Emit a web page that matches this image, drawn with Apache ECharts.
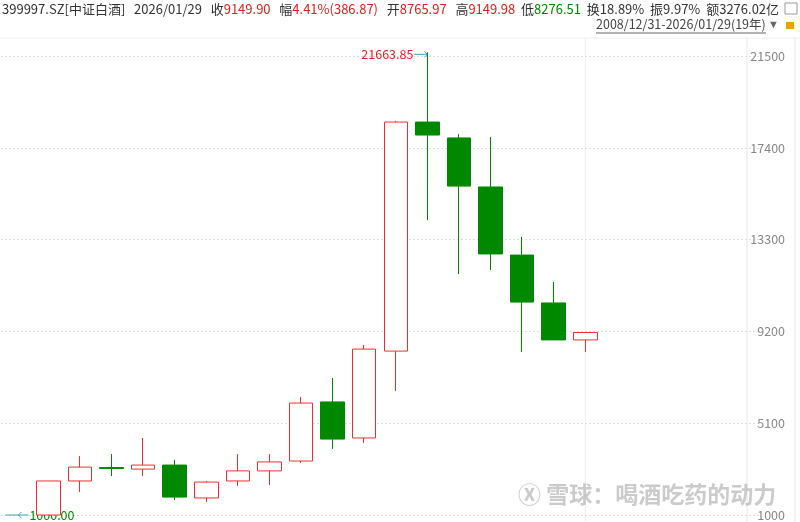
<!DOCTYPE html>
<html><head><meta charset="utf-8">
<script src="https://cdn.jsdelivr.net/npm/echarts@6/dist/echarts.min.js"></script>
<style>html,body{margin:0;padding:0;background:#fff}#c{width:800px;height:522px}</style>
</head><body><div id="c"></div>
<script>
const years=['2009','2010','2011','2012','2013','2014','2015','2016','2017','2018','2019','2020','2021','2022','2023','2024','2025','2026'];
// [open, close, low, high]
const ohlc=[
[1000,2520,1000,2520],
[2520,3140,2030,3630],
[3120,3080,2740,3720],
[3050,3230,2740,4440],
[3230,1800,1670,3460],
[1760,2470,1580,2520],
[2520,2970,2300,3720],
[2970,3370,2340,3720],
[3410,6000,3320,6270],
[6050,4390,3950,7120],
[4440,8410,4220,8590],
[8320,18550,6540,18600],
[18550,17970,14170,21663.85],
[17840,15690,11760,18010],
[15650,12660,11940,17880],
[12610,10510,8280,13420],
[10470,8820,8820,11410],
[8820,9150,8280,9150]
];
const yTicks=[1000,5100,9200,13300,17400,21500];
const cats=['pad'].concat(years,['p1','p2','p3','p4','p5']);
const data=[null].concat(ohlc.map(d=>d),[null,null,null,null,null]).map(d=>d?d:'-');
const ch=echarts.init(document.getElementById('c'));
ch.setOption({
 animation:false,
 grid:{left:1,right:41,top:56,bottom:7},
 xAxis:{type:'category',data:cats,axisLabel:{show:false},axisTick:{show:false},axisLine:{show:false},splitLine:{show:false}},
 yAxis:{type:'value',position:'right',min:yTicks[0],max:yTicks[yTicks.length-1],interval:4100,
  axisLabel:{color:'#888',fontFamily:'Microsoft YaHei, Noto Sans CJK SC',fontSize:12.5,align:'right',margin:26,formatter:v=>String(v)},
  axisLine:{show:false},axisTick:{show:false},
  splitLine:{lineStyle:{color:'#ddd',type:[2,2]}}},
 series:[{type:'candlestick',data:data,barWidth:24,
  itemStyle:{color:'#fff',color0:'#008800',borderColor:'#f03030',borderColor0:'#008800',borderWidth:1}}]
});
const p=(i,v)=>ch.convertToPixel({xAxisIndex:0,yAxisIndex:0},[i,v]);
const hi=p(13,21663.85), lo=p(1,1000), last=p(18,9150);
const font='Microsoft YaHei, Noto Sans CJK SC';
const hdr=[['399997.SZ[中证白酒]','#333'],['   2026/01/29   ','#333'],['收','#333'],['9149.90','#e02020'],['   幅','#333'],['4.41%(386.87)','#e02020'],['   开','#333'],['8765.97','#e02020'],['   高','#333'],['9149.98','#e02020'],['  低','#333'],['8276.51','#008800'],['  换18.89%  振9.97%  额3276.02亿','#333']];
const rich={};hdr.forEach((h,i)=>rich['r'+i]={fill:h[1],fontSize:13,fontFamily:font});
ch.setOption({graphic:[
 {type:'text',left:2,top:3,style:{text:hdr.map((h,i)=>'{r'+i+'|'+h[0]+'}').join(''),rich:rich,fontFamily:font}},
 {type:'rect',shape:{x:785,y:3,width:12,height:11},style:{fill:'#fff',stroke:'#999'}},
 {type:'text',x:596,y:18,style:{text:'2008/12/31-2026/01/29(19年)',fill:'#444',fontSize:12.5,fontFamily:font}},
 {type:'line',shape:{x1:596,y1:33,x2:766,y2:33},style:{stroke:'#666'}},
 {type:'text',x:768,y:19,style:{text:'▼',fill:'#666',fontSize:11}},
 {type:'rect',shape:{x:786,y:22,width:8,height:7},style:{fill:'#f0a000'}},
 {type:'line',shape:{x1:0,y1:38,x2:800,y2:38},style:{stroke:'#eee'}},
 {type:'line',shape:{x1:747,y1:38,x2:747,y2:522},style:{stroke:'#e8e8e8'}},
 {type:'line',shape:{x1:795,y1:38,x2:795,y2:522},style:{stroke:'#e8e8e8'}},
 {type:'line',shape:{x1:last[0],y1:38,x2:last[0],y2:522},style:{stroke:'#eee'},z:-1},
 {type:'text',x:hi[0]-14,y:hi[1]+2,style:{text:'21663.85',fill:'#e02020',fontSize:12.5,fontFamily:font,align:'right',verticalAlign:'middle'}},
 {type:'line',shape:{x1:hi[0]-13,y1:hi[1]+2,x2:hi[0],y2:hi[1]+2},style:{stroke:'#3aa0c8'}},
 {type:'polyline',shape:{points:[[hi[0]-3,hi[1]-1],[hi[0],hi[1]+2],[hi[0]-3,hi[1]+5]]},style:{stroke:'#3aa0c8',fill:null}},
 {type:'line',shape:{x1:lo[0]-43,y1:lo[1],x2:lo[0]-20,y2:lo[1]},style:{stroke:'#3aa0c8'}},
 {type:'polyline',shape:{points:[[lo[0]-27,lo[1]-3],[lo[0]-30,lo[1]],[lo[0]-27,lo[1]+3]]},style:{stroke:'#3aa0c8',fill:null}},
 {type:'text',x:lo[0]-19,y:lo[1],style:{text:'1000.00',fill:'#008800',fontSize:12.5,fontFamily:font,verticalAlign:'middle'}},
 {type:'text',x:518,y:483,style:{text:'Ⓧ 雪球：喝酒吃药的动力',fill:'rgba(160,160,160,0.55)',fontSize:23,fontFamily:font,fontWeight:'bold'}}
]});
</script></body></html>
